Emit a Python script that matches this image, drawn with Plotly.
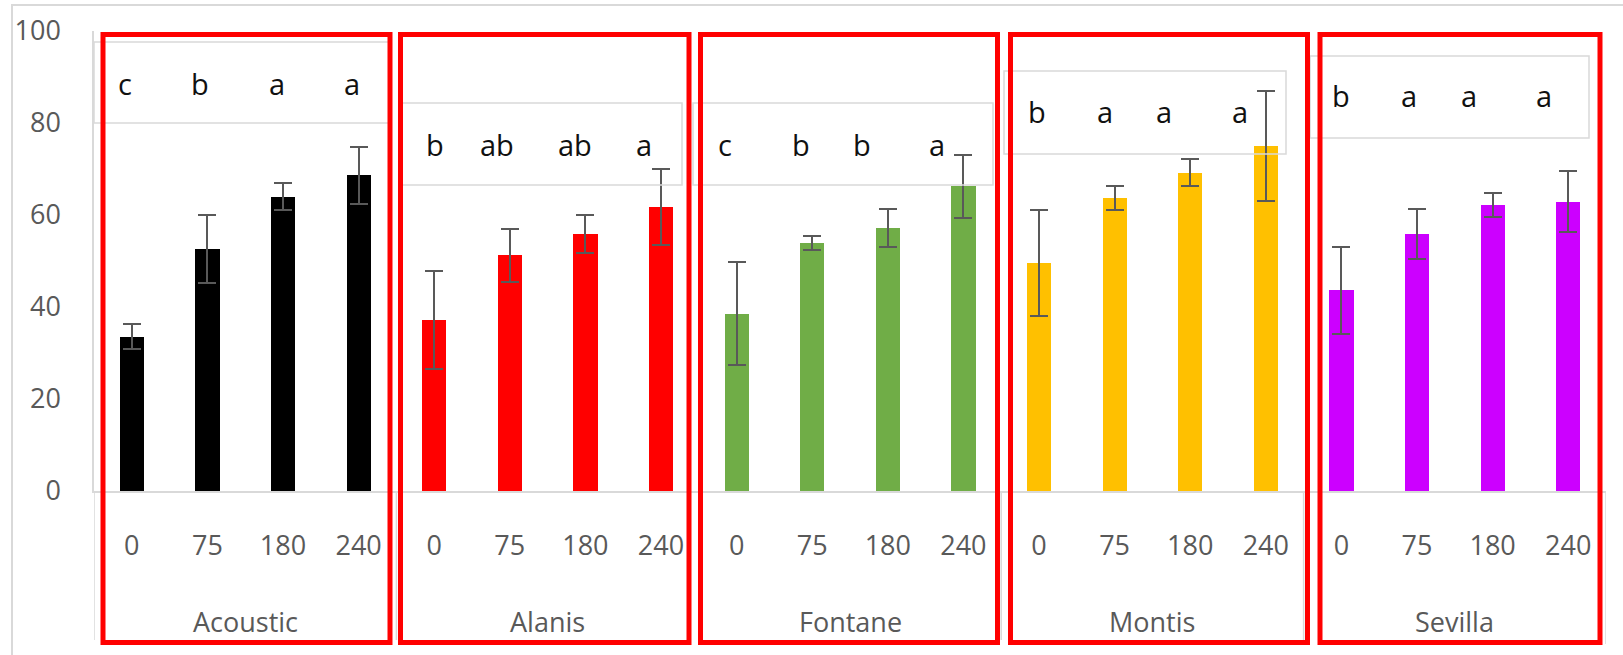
import plotly.graph_objects as go

# ---------------- data ----------------
cultivars = ["Acoustic", "Alanis", "Fontane", "Montis", "Sevilla"]
doses = ["0", "75", "180", "240"]

acoustic_mean = [33.5, 52.7, 64.0, 68.6]
acoustic_err = [2.7, 7.4, 2.9, 6.2]
alanis_mean = [37.2, 51.2, 55.9, 61.8]
alanis_err = [10.6, 5.8, 4.2, 8.3]
fontane_mean = [38.5, 53.9, 57.1, 66.2]
fontane_err = [11.2, 1.5, 4.1, 6.9]
montis_mean = [49.6, 63.6, 69.2, 75.0]
montis_err = [11.5, 2.6, 3.0, 12.0]
sevilla_mean = [43.6, 55.9, 62.1, 62.9]
sevilla_err = [9.5, 5.5, 2.6, 6.7]

acoustic_letters = ["c", "b", "a", "a"]
alanis_letters = ["b", "ab", "ab", "a"]
fontane_letters = ["c", "b", "b", "a"]
montis_letters = ["b", "a", "a", "a"]
sevilla_letters = ["b", "a", "a", "a"]

means = [acoustic_mean, alanis_mean, fontane_mean, montis_mean, sevilla_mean]
errs = [acoustic_err, alanis_err, fontane_err, montis_err, sevilla_err]
letters = [acoustic_letters, alanis_letters, fontane_letters, montis_letters, sevilla_letters]

# ---------------- style ----------------
colors = ["#000000", "#FF0000", "#70AD47", "#FFC000", "#CC00FF"]
W, H = 1623, 655
L, R, T, B = 94, 17, 31, 164
FONT = "Open Sans"
AX_COLOR = "#595959"
LINE_GRAY = "#D9D9D9"

# letter boxes (pixel coords) and letter y-centre (pixel)
letter_box_px = [(94, 42, 390, 123), (402, 103, 682, 185), (693, 103, 993, 185),
                 (1004, 71, 1286, 154), (1310, 56, 1589, 138)]
letter_y_px = [83, 144, 144, 111, 96]
letter_xshift = [[-7, -7, -6, -7], [1, -13, -10, -17], [-12, -11, -26, -26],
                 [-2, -10, -26, -26], [0, -8, -24, -24]]
# red highlight boxes (pixel coords, stroke centres)
red_box_px = [(103, 390), (400.5, 689), (700.5, 997.5), (1010.5, 1307.5), (1320, 1600)]
red_top, red_bot = 34.5, 642.5

pw, ph = W - L - R, H - T - B


def px2x(px):
    return (px - L) / pw


def px2y(py):
    return (H - B - py) / ph


ng = len(doses)
fig = go.Figure()
for g, cv in enumerate(cultivars):
    xs = [g * ng + i for i in range(ng)]
    fig.add_trace(go.Bar(
        x=xs, y=means[g], name=cv, width=0.32,
        marker=dict(color=colors[g], line=dict(width=0)),
        error_y=dict(type="data", array=errs[g], color=AX_COLOR, thickness=2, width=9),
        showlegend=False,
    ))
    # letter box
    x0, y0, x1, y1 = letter_box_px[g]
    fig.add_shape(type="rect", xref="paper", yref="paper",
                  x0=px2x(x0), x1=px2x(x1), y0=px2y(y1), y1=px2y(y0),
                  line=dict(color=LINE_GRAY, width=1.5), fillcolor="rgba(0,0,0,0)", layer="above")
    for i, lt in enumerate(letters[g]):
        fig.add_annotation(x=xs[i], y=px2y(letter_y_px[g]), xref="x", yref="paper",
                           text=lt, showarrow=False, xshift=letter_xshift[g][i],
                           font=dict(family=FONT, size=29, color="#111111"),
                           xanchor="center", yanchor="middle")
    # group label
    fig.add_annotation(x=(xs[0] + xs[-1]) / 2, y=px2y(621), xref="x", yref="paper",
                       text=cv, showarrow=False,
                       font=dict(family=FONT, size=27, color=AX_COLOR),
                       xanchor="center", yanchor="middle")
    # group dividers
    fig.add_shape(type="line", xref="x", yref="paper",
                  x0=g * ng - 0.5, x1=g * ng - 0.5, y0=0, y1=px2y(640),
                  line=dict(color=LINE_GRAY, width=1.5), layer="below")

fig.add_shape(type="line", xref="x", yref="paper",
              x0=len(cultivars) * ng - 0.5, x1=len(cultivars) * ng - 0.5, y0=0, y1=px2y(644),
              line=dict(color=LINE_GRAY, width=1.5), layer="below")

# outer chart border
fig.add_shape(type="rect", xref="paper", yref="paper",
              x0=px2x(12), x1=px2x(W + 20), y0=px2y(H + 20), y1=px2y(5),
              line=dict(color=LINE_GRAY, width=2), fillcolor="rgba(0,0,0,0)", layer="below")

# red highlight boxes
for (x0, x1) in red_box_px:
    fig.add_shape(type="rect", xref="paper", yref="paper",
                  x0=px2x(x0), x1=px2x(x1), y0=px2y(red_bot), y1=px2y(red_top),
                  line=dict(color="#FF0000", width=5), fillcolor="rgba(0,0,0,0)", layer="above")

tickvals = list(range(len(cultivars) * ng))
ticktext = doses * len(cultivars)

fig.update_layout(
    width=W, height=H,
    margin=dict(l=L, r=R, t=T, b=B, autoexpand=False),
    paper_bgcolor="white", plot_bgcolor="white",
    bargap=0,
    xaxis=dict(range=[-0.5, len(cultivars) * ng - 0.5], tickvals=tickvals, ticktext=ticktext,
               showgrid=False, zeroline=False, showline=True, linecolor=LINE_GRAY, linewidth=1.5,
               ticks="", tickfont=dict(family=FONT, size=27, color=AX_COLOR),
               ticklabelstandoff=30, fixedrange=True),
    yaxis=dict(range=[0, 100], tickvals=[0, 20, 40, 60, 80, 100],
               showgrid=False, zeroline=False, showline=True, linecolor=LINE_GRAY, linewidth=1.5,
               ticks="", tickfont=dict(family=FONT, size=27, color=AX_COLOR),
               ticklabelstandoff=26, fixedrange=True),
)

fig.write_html("out.html", config={"displayModeBar": False},
               post_script="document.body.style.margin='0px';document.body.style.overflow='hidden';")
